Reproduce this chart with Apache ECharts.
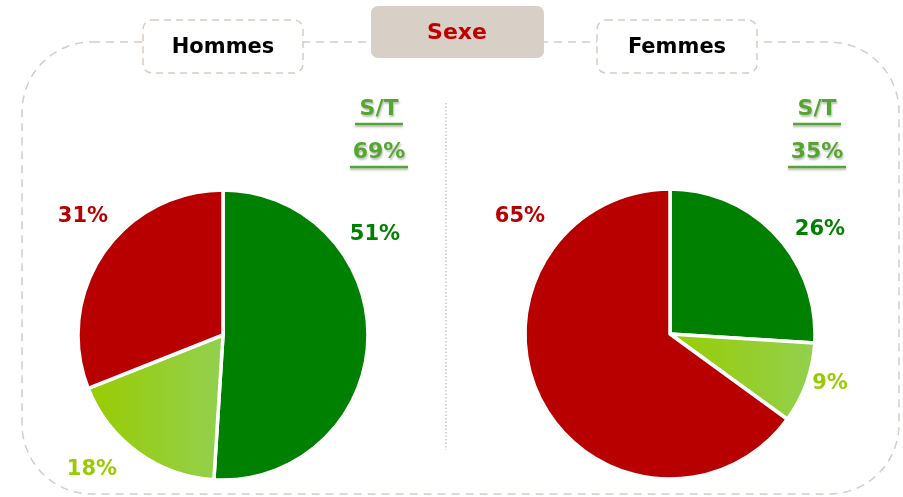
<!DOCTYPE html>
<html>
<head>
<meta charset="utf-8">
<script src="https://cdn.jsdelivr.net/npm/echarts@6/dist/echarts.min.js"></script>
<style>
  html, body { margin: 0; padding: 0; background: #fff; }
  #chart { width: 903px; height: 497px; }
</style>
</head>
<body>
<div id="chart"></div>
<script>
const categories = ["Satisfait", "Plutôt satisfait", "Pas satisfait"];
const hommesValues = [51, 18, 31];
const femmesValues = [26, 9, 65];
const groupLabels = ["Hommes", "Femmes"];
const subtotals = ["69%", "35%"];
const title = "Sexe";

const lightGreen = {
  type: "linear", x: 0, y: 0, x2: 1, y2: 0,
  colorStops: [{ offset: 0, color: "#99cc00" }, { offset: 1, color: "#92d050" }],
};
const sliceColors = ["#008000", lightGreen, "#b80000"];
const labelColors = ["#008000", "#99cc00", "#b80000"];

// where each percentage sits (label centre), per pie
const labelSpots = [
  [[375, 235], [92, 470], [83, 217]],
  [[820, 230], [830, 384], [520, 217]],
];

const chart = echarts.init(document.getElementById("chart"));
const font = "'DejaVu Sans', sans-serif";
const frame = "#d6cdc4";

const makePie = (values, center, idx) => ({
  type: "pie",
  center,
  radius: 145,
  startAngle: 90,
  clockwise: true,
  silent: true,
  itemStyle: { borderColor: "#fff", borderWidth: 3.5 },
  label: {
    show: true,
    position: "outside",
    formatter: "{c}%",
    fontFamily: font,
    fontWeight: "bold",
    fontSize: 21,
    overflow: "none",
    width: 80,
  },
  labelLine: { show: false },
  labelLayout: (p) => ({
    x: labelSpots[idx][p.dataIndex][0],
    y: labelSpots[idx][p.dataIndex][1],
    align: "center",
    verticalAlign: "middle",
  }),
  data: values.map((v, i) => ({
    name: categories[i],
    value: v,
    itemStyle: { color: sliceColors[i] },
    label: { color: labelColors[i] },
  })),
});

const subtotalText = (x, text, y) => ({
  type: "text",
  x, y,
  style: {
    text,
    fill: "#55a630",
    font: "bold 22px " + font,
    align: "center",
    verticalAlign: "middle",
    textShadowColor: "rgba(0,0,0,0.25)",
    textShadowOffsetX: 1,
    textShadowOffsetY: 2,
    textShadowBlur: 2,
  },
});
const underline = (x, y, half) => ({
  type: "line",
  shape: { x1: x - half, y1: y, x2: x + half, y2: y },
  style: {
    stroke: "#55a630",
    lineWidth: 2.5,
    shadowColor: "rgba(0,0,0,0.25)",
    shadowOffsetY: 2,
    shadowBlur: 2,
  },
});
const labelBox = (x, text) => [
  {
    type: "rect",
    shape: { x, y: 20, width: 160, height: 53, r: 9 },
    style: { fill: "#fff", stroke: frame, lineWidth: 1.5, lineDash: [7, 5] },
  },
  {
    type: "text",
    x: x + 80, y: 48,
    style: { text, fill: "#000", font: "bold 21px " + font, align: "center", verticalAlign: "middle" },
  },
];

chart.setOption({
  animation: false,
  graphic: [
    {
      type: "rect",
      z: -10,
      shape: { x: 22, y: 42, width: 877, height: 452, r: 70 },
      style: { fill: "none", stroke: frame, lineWidth: 1.5, lineDash: [8, 6] },
    },
    {
      type: "line",
      shape: { x1: 446, y1: 103, x2: 446, y2: 450 },
      style: { stroke: "#d0c8c0", lineWidth: 1.5, lineDash: [1.5, 2] },
    },
    {
      type: "rect",
      shape: { x: 371, y: 6, width: 173, height: 52, r: 7 },
      style: { fill: "#d8cfc6" },
    },
    {
      type: "text",
      x: 457, y: 33,
      style: { text: title, fill: "#c00000", font: "bold 22px " + font, align: "center", verticalAlign: "middle" },
    },
    ...labelBox(143, groupLabels[0]),
    ...labelBox(597, groupLabels[1]),
    subtotalText(379, "S/T", 109),
    underline(379, 124, 24),
    subtotalText(379, subtotals[0], 152),
    underline(379, 167, 29),
    subtotalText(817, "S/T", 109),
    underline(817, 124, 24),
    subtotalText(817, subtotals[1], 152),
    underline(817, 167, 29),
  ],
  series: [
    makePie(hommesValues, [223, 335], 0),
    makePie(femmesValues, [670, 334], 1),
  ],
});
</script>
</body>
</html>
